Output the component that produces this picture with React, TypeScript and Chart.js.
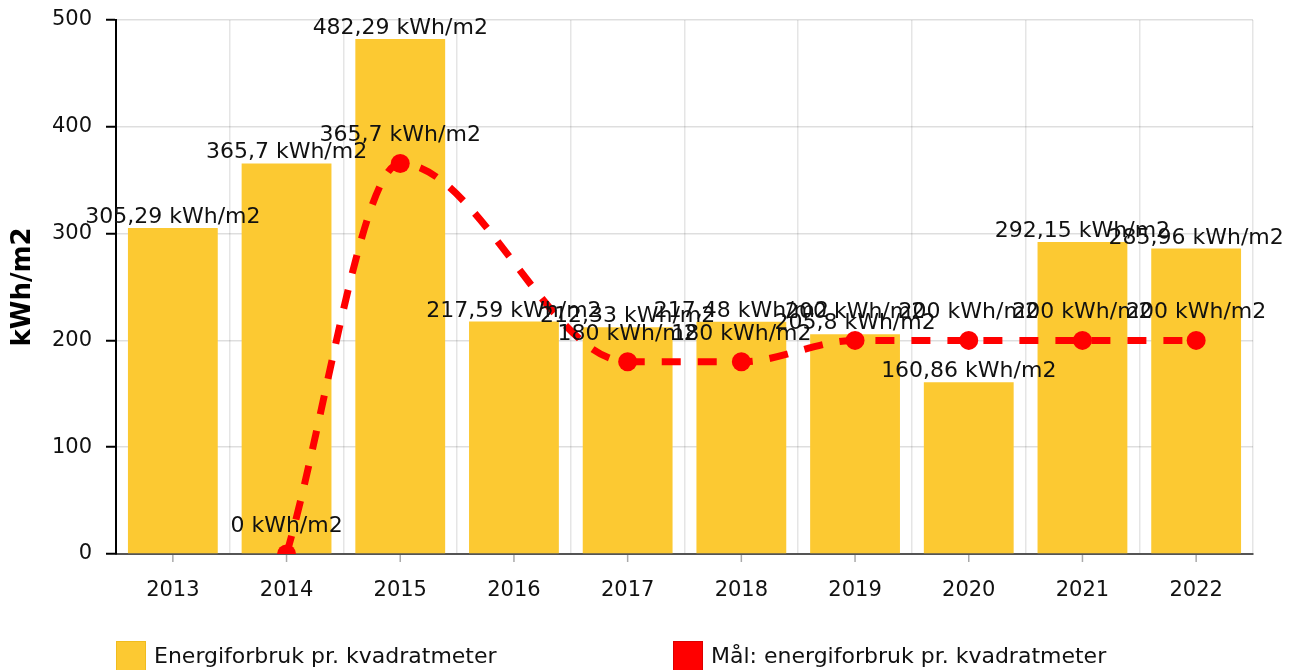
import React, { useEffect, useRef } from 'react';
import { Chart, registerables } from 'chart.js';

Chart.register(...registerables);

const categories = ['2013', '2014', '2015', '2016', '2017', '2018', '2019', '2020', '2021', '2022'];
const energyValues = [305.29, 365.7, 482.29, 217.59, 212.33, 217.48, 205.8, 160.86, 292.15, 285.96];
const targetValues: (number | null)[] = [null, 0, 365.7, null, 180, 180, 200, 200, 200, 200];
const yTicks = [0, 100, 200, 300, 400, 500];
const unit = 'kWh/m2';
const seriesNames = ['Energiforbruk pr. kvadratmeter', 'Mål: energiforbruk pr. kvadratmeter'];

const FONT = '"DejaVu Sans", Verdana, sans-serif';
const BAR_COLOR = 'rgb(252, 201, 50)';
const BAR_BORDER = 'rgb(240, 188, 30)';
const LINE_COLOR = 'rgb(255, 0, 0)';
const LINE_BORDER = 'rgb(220, 0, 0)';

const fmt = (v: number) => `${String(v).replace('.', ',')} ${unit}`;

const overlayPlugin = {
  id: 'overlay',
  afterDraw(chart: any) {
    const ctx = chart.ctx as CanvasRenderingContext2D;
    const xs = chart.scales.x;
    const area = chart.chartArea;
    ctx.save();
    // x tick marks at category centers
    ctx.strokeStyle = '#aaa';
    ctx.lineWidth = 1.5;
    categories.forEach((_, i) => {
      const x = xs.getPixelForValue(i);
      ctx.beginPath();
      ctx.moveTo(x, area.bottom + 1);
      ctx.lineTo(x, area.bottom + 8);
      ctx.stroke();
    });
    // value labels
    ctx.font = `22px ${FONT}`;
    ctx.fillStyle = '#111';
    ctx.textAlign = 'center';
    ctx.textBaseline = 'alphabetic';
    chart.data.datasets.forEach((ds: any, di: number) => {
      const meta = chart.getDatasetMeta(di);
      meta.data.forEach((el: any, i: number) => {
        const v = ds.data[i];
        if (v === null || v === undefined) return;
        const off = meta.type === 'bar' ? 5 : 22;
        ctx.fillText(fmt(v), el.x, el.y - off);
      });
    });
    // legend
    const items = [
      { x: 116, fill: BAR_COLOR, stroke: BAR_BORDER, label: seriesNames[0] },
      { x: 673, fill: LINE_COLOR, stroke: LINE_BORDER, label: seriesNames[1] },
    ];
    ctx.textAlign = 'left';
    ctx.textBaseline = 'middle';
    items.forEach((it) => {
      ctx.fillStyle = it.fill;
      ctx.fillRect(it.x, 641, 30, 30);
      ctx.strokeStyle = it.stroke;
      ctx.lineWidth = 1;
      ctx.strokeRect(it.x + 0.5, 641.5, 29, 29);
      ctx.fillStyle = '#111';
      ctx.fillText(it.label, it.x + 38, 657);
    });
    ctx.restore();
  },
};

export default function App() {
  const ref = useRef<HTMLCanvasElement>(null);
  useEffect(() => {
    if (!ref.current) return;
    Chart.defaults.font.family = FONT;
    const chart = new Chart(ref.current, {
      type: 'bar',
      data: {
        labels: categories,
        datasets: [
          {
            type: 'line',
            label: seriesNames[1],
            data: targetValues,
            borderColor: LINE_COLOR,
            backgroundColor: LINE_COLOR,
            borderWidth: 7,
            borderDash: [19, 17],
            pointRadius: 9.5,
            pointBorderWidth: 0,
            pointBackgroundColor: LINE_COLOR,
            cubicInterpolationMode: 'monotone',
            spanGaps: true,
            fill: false,
            order: 0,
          } as any,
          {
            type: 'bar',
            label: seriesNames[0],
            data: energyValues,
            backgroundColor: BAR_COLOR,
            borderWidth: 0,
            barPercentage: 0.79,
            categoryPercentage: 1,
            order: 1,
          },
        ],
      },
      options: {
        responsive: false,
        maintainAspectRatio: false,
        devicePixelRatio: 1,
        animation: false,
        layout: { padding: { top: 20, right: 48, bottom: 0, left: 0 } },
        plugins: { legend: { display: false }, tooltip: { enabled: false } },
        scales: {
          x: {
            afterFit: (s: any) => {
              s.height = 116;
              s.paddingLeft = 0;
              s.paddingRight = 0;
            },
            ticks: { font: { size: 21 }, color: '#111', padding: 24, maxRotation: 0 },
            grid: { offset: true, color: 'rgba(0,0,0,0.1)', lineWidth: 1.5, drawTicks: false },
            border: { display: true, color: '#555', width: 2 },
          },
          y: {
            min: 0,
            max: 500,
            z: 1,
            afterFit: (s: any) => {
              s.width = 116;
              s.paddingTop = 0;
              s.paddingBottom = 0;
            },
            afterBuildTicks: (s: any) => {
              s.ticks = yTicks.map((v) => ({ value: v }));
            },
            ticks: { font: { size: 21 }, color: '#111', padding: 14 },
            grid: {
              color: 'rgba(0,0,0,0.13)',
              lineWidth: 1.5,
              tickColor: '#000',
              tickWidth: 2,
              tickLength: 10,
              drawTicks: true,
            },
            border: { display: true, color: '#000', width: 2 },
            title: {
              display: true,
              text: unit,
              color: '#000',
              font: { size: 26, weight: 'bold' },
              padding: { top: 8, bottom: 0 },
            },
          },
        },
      } as any,
      plugins: [overlayPlugin],
    });
    return () => chart.destroy();
  }, []);
  return (
    <div style={{ position: 'absolute', left: 0, top: 0, width: 1301, height: 670, background: '#fff' }}>
      <canvas ref={ref} width={1301} height={670} style={{ display: 'block' }} />
    </div>
  );
}
